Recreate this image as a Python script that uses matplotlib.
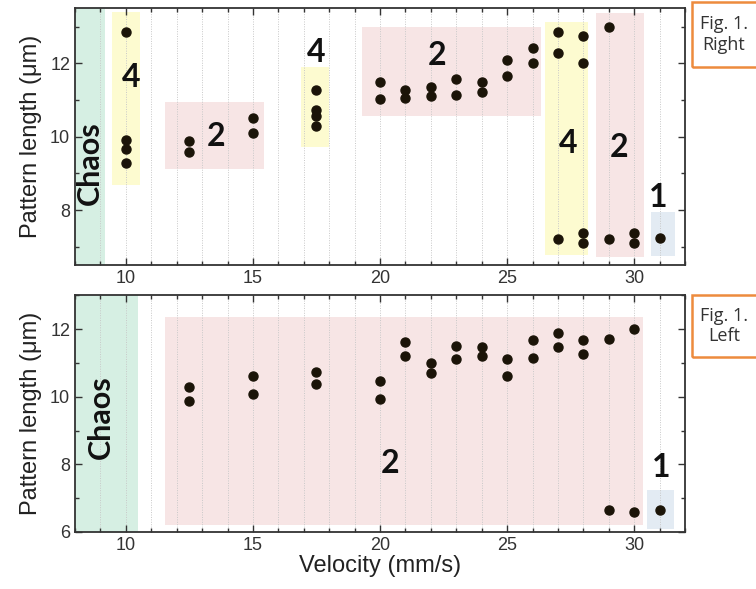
import matplotlib.pyplot as plt
from matplotlib.patches import Rectangle
from matplotlib.ticker import MultipleLocator

# --- data: top panel (Fig. 1. Right)
right_x = [10, 10, 10, 10, 12.5, 12.5, 15, 15, 17.5, 17.5, 17.5, 17.5,
           20, 20, 21, 21, 22, 22, 23, 23, 24, 24, 25, 25, 26, 26,
           27, 27, 27, 28, 28, 28, 28, 29, 29, 30, 30, 31]
right_y = [12.85, 9.92, 9.67, 9.28, 9.87, 9.59, 10.5, 10.1, 11.28, 10.73, 10.55, 10.28,
           11.5, 11.02, 11.28, 11.04, 11.35, 11.1, 11.57, 11.13, 11.48, 11.22, 12.08, 11.65, 12.42, 12.0,
           12.84, 12.28, 7.2, 12.74, 12.0, 7.38, 7.1, 13.0, 7.2, 7.38, 7.1, 7.23]

# --- data: bottom panel (Fig. 1. Left)
left_x = [12.5, 12.5, 15, 15, 17.5, 17.5, 20, 20, 21, 21, 22, 22, 23, 23,
          24, 24, 25, 25, 26, 26, 27, 27, 28, 28, 29, 29, 30, 30, 31]
left_y = [10.3, 9.88, 10.61, 10.08, 10.72, 10.37, 10.46, 9.94, 11.62, 11.19, 11.01, 10.7, 11.5, 11.1,
          11.48, 11.19, 11.1, 10.6, 11.68, 11.13, 11.88, 11.48, 11.68, 11.25, 11.71, 6.65, 12.0, 6.6, 6.66]

# regime regions: (x0, x1, y0, y1, kind)
right_regions = [(8.0, 9.18, 6.5, 13.5, "chaos"), (9.45, 10.55, 8.68, 13.4, "p4"),
                 (11.55, 15.45, 9.13, 10.95, "p2"), (16.9, 18.0, 9.72, 11.9, "p4"),
                 (19.3, 26.35, 10.56, 13.0, "p2"), (26.5, 28.2, 6.78, 13.13, "p4"),
                 (28.5, 30.4, 6.73, 13.36, "p2"), (30.65, 31.6, 6.74, 7.94, "p1")]
left_regions = [(8.0, 10.49, 6.0, 13.0, "chaos"), (11.55, 30.33, 6.2, 12.37, "p2"),
                (30.5, 31.55, 6.1, 7.25, "p1")]

# labels: (x, y, text)
right_labels = [(10.2, 11.6, "4"), (13.55, 10.0, "2"), (17.5, 12.3, "4"), (22.25, 12.2, "2"),
                (27.4, 9.8, "4"), (29.4, 9.7, "2"), (30.95, 8.35, "1")]
left_labels = [(20.4, 8.03, "2"), (31.05, 7.9, "1")]

colors = {"chaos": "#d6efe3", "p4": "#fdfbd0", "p2": "#f7e5e5", "p1": "#e3ebf3"}

plt.rcParams["font.family"] = ["Liberation Sans", "DejaVu Sans"]

fig = plt.figure(figsize=(7.56, 5.89), dpi=100)
ax1 = fig.add_axes([0.0992, 0.550, 0.807, 0.436])
ax2 = fig.add_axes([0.0992, 0.0968, 0.807, 0.402])


def style_axis(ax, ylim, regions, labels, xs, ys, chaos_pos):
    ax.set_xlim(8, 32)
    ax.set_ylim(*ylim)
    for x0, x1, y0, y1, kind in regions:
        ax.add_patch(Rectangle((x0, y0), x1 - x0, y1 - y0, color=colors[kind], lw=0, zorder=0))
    for v in range(9, 32):
        ax.axvline(v, color="#c8c8c8", ls=(0, (1, 1.5)), lw=0.7, zorder=0.5)
    ax.plot(xs, ys, "o", color="#1b1408", ms=6.5, zorder=3)
    for x, y, t in labels:
        ax.text(x, y, t, ha="center", va="center", fontsize=23, fontweight="bold",
                family=["Lato", "DejaVu Sans"], color="#111111")
    ax.text(chaos_pos[0], chaos_pos[1], "Chaos", rotation=90, ha="center", va="center",
            fontsize=22, fontweight="bold", family=["Lato", "DejaVu Sans"], color="#111111")
    ax.xaxis.set_major_locator(MultipleLocator(5))
    ax.xaxis.set_minor_locator(MultipleLocator(1))
    ax.yaxis.set_major_locator(MultipleLocator(2))
    ax.yaxis.set_minor_locator(MultipleLocator(1))
    ax.tick_params(which="both", direction="in", top=True, right=True, labelsize=13,
                   color="#333333", labelcolor="#333333")
    ax.tick_params(which="major", length=5, width=1)
    ax.tick_params(which="minor", length=3, width=1)
    for s in ax.spines.values():
        s.set_linewidth(1.3)
        s.set_color("#333333")
    ax.set_ylabel("Pattern length (\u03bcm)", fontsize=17, color="#222222", labelpad=6)


style_axis(ax1, (6.5, 13.5), right_regions, right_labels, right_x, right_y, (8.6, 9.28))
style_axis(ax2, (6.0, 13.0), left_regions, left_labels, left_x, left_y, (9.0, 9.4))
ax2.set_xlabel("Velocity (mm/s)", fontsize=17, labelpad=1, color="#222222")

# figure-panel tags on the right
for (y0, y1, txt) in [(1 - 67 / 589, 1 - 2 / 589, "Fig. 1.\nRight"), (1 - 357 / 589, 1 - 295 / 589, "Fig. 1.\nLeft")]:
    fig.patches.append(Rectangle((692 / 756, y0), 0.2, y1 - y0, transform=fig.transFigure,
                                 fill=False, edgecolor="#ed8b3d", lw=1.8))
    fig.text(724 / 756, (y0 + y1) / 2, txt, ha="center", va="center", fontsize=13,
             family=["Open Sans", "DejaVu Sans"], linespacing=1.2, color="#333333")

fig.savefig("out.png", dpi=100)
